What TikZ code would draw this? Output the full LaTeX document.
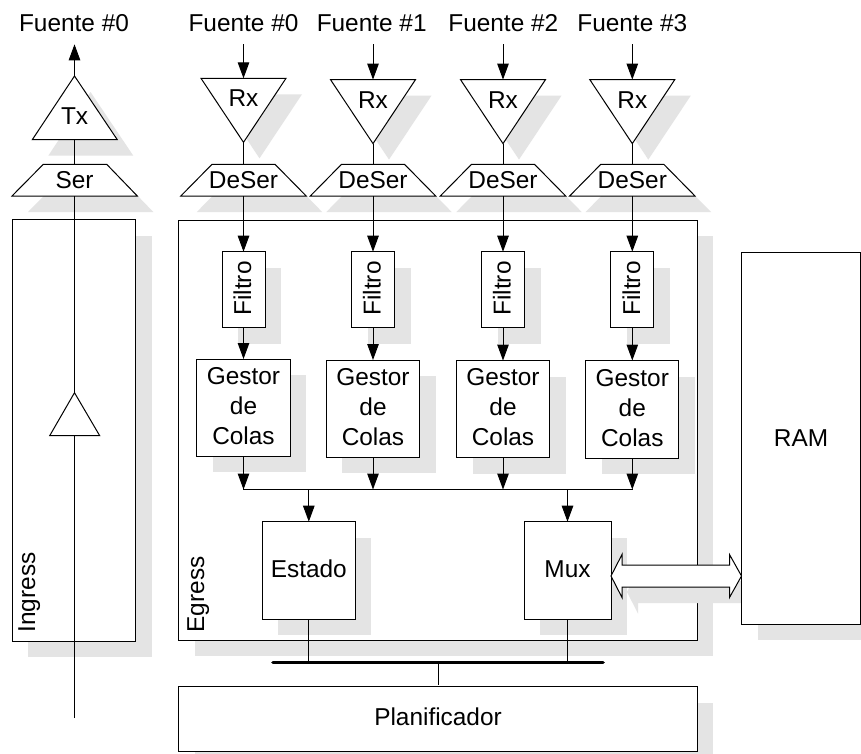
\documentclass[tikz,border=0pt]{standalone}
\usepackage{fontspec}
\setmainfont{Liberation Sans}
\usetikzlibrary{arrows.meta,calc}
\definecolor{shade}{HTML}{E4E4E4}
\tikzset{
  txt/.style={inner sep=0pt,outer sep=0pt,font=\fontsize{24.4}{30}\selectfont,text=black},
  lbl/.style={txt,anchor=base},
  vlbl/.style={txt,rotate=90,anchor=base},
  vlblw/.style={txt,rotate=90,anchor=base west},
  blockbox/.style={txt,draw=black,fill=white,line width=1pt,align=center},
  outline/.style={draw=black,fill=white,line width=1pt,line join=miter},
  shadow/.style={fill=shade,draw=none},
  wire/.style={draw=black,line width=1pt},
  flow/.style={wire,-{Triangle[length=16pt,width=11.5pt]}},
  heavybus/.style={draw=black,line width=3.6pt,line cap=round},
}
% name, x1, y1, x2, y2, text, extra node options
\newcommand{\rbox}[7]{%
  \pgfmathsetmacro{\bw}{(#4)-(#2)}\pgfmathsetmacro{\bh}{(#5)-(#3)}%
  \fill[shadow] ({(#2)+16},{(#3)+16}) rectangle ({(#4)+16},{(#5)+16});
  \node[blockbox,minimum width=\bw pt,minimum height=\bh pt,#7] (#1) at ({((#2)+(#4))/2},{((#3)+(#5))/2}) {#6};
}
\begin{document}
\begin{tikzpicture}[x=1pt,y=-1pt]
\clip (0,0) rectangle (861,753);
\useasboundingbox (0,0) rectangle (861,753);
\fill[white] (0,0) rectangle (861,753);

% large enclosures
\rbox{ingress}{12}{219.7}{135.5}{641}{}{}
\rbox{egress}{178.7}{220}{697.3}{640}{}{}

% double arrow shadow, over the Egress border
\fill[shadow,shift={(16,16)}] (611,576) -- (622,554.5) -- (622,565) -- (729.5,565) -- (729.5,554.5) -- (741,576) -- (729.5,597.5) -- (729.5,587) -- (622,587) -- (622,597.5) -- cycle;

\rbox{ram}{741.5}{252}{860.5}{624}{}{}
\node[lbl] (ramt) at (801,446) {RAM};
\rbox{plan}{178.7}{686.7}{697.3}{751.3}{}{}
\node[lbl] (plant) at (438,725) {Planificador};

\node[vlblw] (ingt) at (35,632.5) {Ingress};
\node[vlblw] (egrt) at (204,632.5) {Egress};

% transmit side
\coordinate (txtip) at (74.5,76);
\coordinate (sertop) at (74.5,164.3);
\coordinate (serbot) at (74.5,196);
\coordinate (txbase) at (74.5,139.7);
\coordinate (ampin) at (74.5,435.7);
\coordinate (ampout) at (74.5,392.7);
\coordinate (start) at (74.5,718);
\coordinate (txout) at (74.5,44.3);
\fill[shadow,shift={(16,16)}] (74.5,76) -- (117.3,139.7) -- (32.3,139.7) -- cycle;
\fill[shadow,shift={(16,16)}] (43.3,164.3) -- (106.7,164.3) -- (137.3,196) -- (12,196) -- cycle;
\draw[outline] (43.3,164.3) -- (106.7,164.3) -- (137.3,196) -- (12,196) -- cycle;
\draw[outline] (txtip) -- (117.3,139.7) -- (32.3,139.7) -- cycle;
\draw[wire] (txbase) -- (sertop);
\draw[wire] (start) -- (ampin);
\draw[wire] (ampout) -- (serbot);
\draw[outline] (ampout) -- (99.7,435.7) -- (49.7,435.7) -- cycle;
\draw[flow] (txtip) -- (txout);
\node[lbl] (srct) at (74,31) {Fuente \#0};
\node[lbl] (txt) at (74.6,124) {Tx};
\node[lbl] (sert) at (74.5,188) {Ser};

% shadows of the receive triangles and deserialisers first
\foreach \i/\cx/\ty in {1/243.5/78.3,2/373/79.6,3/503/79.6,4/632.3/79.6}{
  \fill[shadow,shift={(16,16)}] (\cx-42.5,\ty) -- (\cx+42.5,\ty) -- (\cx,\ty+64) -- cycle;
  \fill[shadow,shift={(16,16)}] (\cx-31.5,164.3) -- (\cx+31.5,164.3) -- (\cx+62.7,196) -- (\cx-62.7,196) -- cycle;
}
% receive columns
\foreach \i/\cx/\ty/\n/\sx/\gt/\gb/\gw in {%
  1/243.5/78.3/0/243.5/359/456/46.6,%
  2/373/79.6/1/371.7/360/457/46.6,%
  3/503/79.6/2/503.3/360.5/457.5/46.5,%
  4/632.3/79.6/3/632.3/360.5/458/46.5}{
  \coordinate (rx\i top) at (\cx,\ty);
  \coordinate (rx\i tip) at (\cx,\ty+64);
  \coordinate (ds\i top) at (\cx,164.3);
  \coordinate (ds\i bot) at (\cx,196);
  \coordinate (in\i) at (\cx,44.3);
  \draw[outline] (\cx-31.5,164.3) -- (\cx+31.5,164.3) -- (\cx+62.7,196) -- (\cx-62.7,196) -- cycle;
  \draw[outline] (\cx-42.5,\ty) -- (\cx+42.5,\ty) -- (\cx,\ty+64) -- cycle;
  \draw[wire] (rx\i tip) -- (ds\i top);
  \draw[flow] (in\i) -- (rx\i top);
  \node[lbl] (src\i) at (\sx,31) {Fuente \#\n};
  \node[lbl] (rxt\i) at (\cx,\ty+28.4) {Rx};
  \node[lbl] (dst\i) at (\cx,188) {DeSer};
  \rbox{f\i}{\cx-21.5}{251.7}{\cx+21.5}{327.5}{}{}
  \node[vlbl] (ft\i) at (\cx+7.7,288.5) {Filtro};
  \rbox{g\i}{\cx-\gw}{\gt}{\cx+\gw}{\gb}{}{}
  \node[txt,align=center] (gt\i) at ([yshift=1.5pt]g\i.center) {Gestor\\de\\Colas};
  \draw[flow] (ds\i bot) -- (f\i.north);
  \draw[flow] (f\i.south) -- (g\i.north);
}

% collecting bus
\coordinate (busl) at (243.5,489.5);
\coordinate (busr) at (632.3,489.5);
\draw[wire,line cap=rect] (busl) -- (busr);
\foreach \i in {1,2,3,4}{
  \draw[flow] (g\i.south) -- (g\i.south |- busl);
}

\rbox{est}{262.3}{521.7}{355.3}{619.3}{Estado}{text height=14.4pt,text depth=0pt}
\rbox{mux}{524}{521.7}{611}{619.3}{Mux}{text height=14.4pt,text depth=0pt}
\draw[flow] (est.north |- busl) -- (est.north);
\draw[flow] (mux.north |- busl) -- (mux.north);

% scheduler bus
\coordinate (hbl) at (273,662.5);
\coordinate (hbr) at (603,662.5);
\draw[wire] (est.south) -- (est.south |- hbl);
\draw[wire] (mux.south) -- (mux.south |- hbl);
\draw[wire] (plan.north |- hbl) -- ([yshift=1.5pt]plan.north);
\draw[heavybus] (hbl) -- (hbr);

% double arrow between Mux and RAM
\draw[outline] (mux.east |- 0,576) -- (622,554.5) -- (622,565) -- (729.5,565) -- (729.5,554.5) -- (ram.west |- 0,576) -- (729.5,597.5) -- (729.5,587) -- (622,587) -- (622,597.5) -- cycle;
\end{tikzpicture}
\end{document}
